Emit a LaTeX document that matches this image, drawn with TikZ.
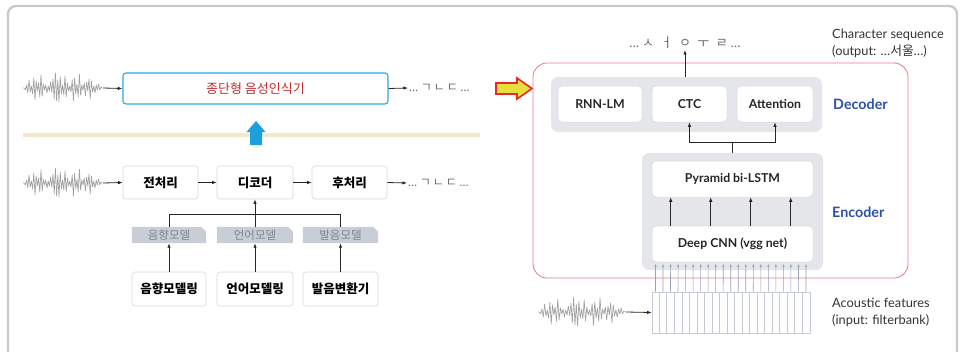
\documentclass[tikz,border=0pt]{standalone}
\usepackage{fontspec}
\setmainfont{Lato}
\newfontfamily\kr{Noto Sans CJK KR}
\usetikzlibrary{arrows.meta,backgrounds,calc}
\definecolor{framec}{HTML}{CACACA}
\definecolor{bluec}{HTML}{2BA8E0}
\definecolor{redtxt}{HTML}{C42A30}
\definecolor{boxline}{HTML}{D4D7DC}
\definecolor{tabfill}{HTML}{C9CDD5}
\definecolor{tabtxt}{HTML}{7E848E}
\definecolor{beige}{HTML}{F2E9CD}
\definecolor{uparrow}{HTML}{1BA0DC}
\definecolor{redline}{HTML}{E57B84}
\definecolor{panelc}{HTML}{E4E6EA}
\definecolor{encblue}{HTML}{2C50A8}
\definecolor{fbline}{HTML}{C6CAD2}
\definecolor{fbarrow}{HTML}{98A2B7}
\definecolor{outc}{HTML}{656A72}
\definecolor{wavec}{HTML}{A0A0A0}
\definecolor{yel}{HTML}{E6DF3C}
\definecolor{yelline}{HTML}{E8262E}
\definecolor{labc}{HTML}{333333}
\newcommand\mydots{{\rmfamily\mdseries …}}
\begin{document}
\begin{tikzpicture}[x=1pt,y=-1pt,
  arr/.style={-{Latex[length=4.5pt,width=3.4pt]}, line width=0.8pt, black!85},
  garr/.style={-{Latex[length=3.2pt,width=2.4pt]}, line width=0.6pt, fbarrow},
  wbox/.style={draw=boxline, fill=white, rounded corners=3pt, line width=0.6pt, inner sep=0pt, font=\kr\bfseries\fontsize{12.5}{14}\selectfont},
  ebox/.style={draw=boxline, fill=white, rounded corners=4pt, line width=0.5pt, inner sep=0pt, font=\bfseries\fontsize{12.3}{14}\selectfont, text=black!85},
  tabnode/.style={inner sep=0pt, minimum height=16pt, text=tabtxt, font=\kr\fontsize{11.5}{13}\selectfont},
  panel/.style={fill=panelc, rounded corners=7pt, inner sep=0pt},
  jamo/.style={inner sep=1pt, text=outc, font=\kr\fontsize{12}{14}\selectfont},
  lab/.style={inner sep=0pt, anchor=west, align=left, text=labc, font=\fontsize{12.8}{17.5}\selectfont},
  coder/.style={inner sep=0pt, anchor=west, text=encblue, font=\bfseries\fontsize{14.3}{16}\selectfont},
  wave/.pic={\draw[wavec, line width=0.65pt, line join=round] (0,0)
     \foreach \a [count=\i] in {0,2,-3,5,-8,4,-2,6,-10,12,-7,3,-5,9,-13,8,-4,2,-3,5,-2,3,-6,4,-9,11,-15,13,-8,14,-11,6,-3,7,-12,9,-5,3,-2,4,-8,13,-10,6,-4,9,-14,7,-3,2,-5,8,-6,3,-9,11,-7,4,-2,5,-3,2,-4,2,-1,0} { -- (\i*1.2,\a) };}
]
\useasboundingbox (0,0) rectangle (961,351);
\clip (0,0) rectangle (961,351);
% outer frame
\draw[framec, line width=2.4pt, rounded corners=8pt] (8,6) rectangle (957,380);

% ===== left: end-to-end =====
\pic at (23,88) {wave};
\coordinate (w1) at (103,88);
\node[draw=bluec, line width=1.1pt, rounded corners=3pt, fill=white, minimum width=265pt, minimum height=31pt, inner sep=0pt,
      text=redtxt, font=\kr\fontsize{13}{15}\selectfont] (e2e) at (255.5,88.5) {종단형 음성인식기};
\draw[arr] (w1) -- (e2e.west);
\node[jamo, anchor=west] (o1) at (408,88) {\mydots\ ㄱ\,ㄴ\,ㄷ \mydots};
\draw[arr] (e2e.east) -- (o1.west);

% separator and blue arrow
\draw[beige, line width=4pt] (23,135) -- (480,135);
\fill[uparrow] (250,145) -- (250,132) -- (246.5,132) -- (256,121) -- (265.5,132) -- (262,132) -- (262,145) -- cycle;

% ===== left: conventional =====
\pic at (23,183) {wave};
\coordinate (w2) at (103,183);
\node[wbox, minimum width=75pt, minimum height=33pt] (pre) at (160.5,182.5) {전처리};
\node[wbox, minimum width=76pt, minimum height=33pt] (dec) at (255,182.5) {디코더};
\node[wbox, minimum width=75pt, minimum height=33pt] (post) at (349.5,182.5) {후처리};
\node[jamo, anchor=west] (o2) at (407,183) {\mydots\ ㄱ\,ㄴ\,ㄷ \mydots};
\draw[arr] (w2) -- (pre.west);
\draw[arr] (pre.east) -- (dec.west);
\draw[arr] (dec.east) -- (post.west);
\draw[arr] (post.east) -- (o2.west);

\node[tabnode, minimum width=74pt] (t1) at (169,235) {음향모델};
\node[tabnode, minimum width=76pt] (t2) at (255,235) {언어모델};
\node[tabnode, minimum width=75pt] (t3) at (340.5,235) {발음모델};
\begin{scope}[on background layer]
  \foreach \t in {t1,t2,t3}
    \fill[tabfill] (\t.north west) -- ([xshift=-5pt]\t.north east) -- ([yshift=-5pt]\t.north east) -- (\t.south east) -- (\t.south west) -- cycle;
\end{scope}
\coordinate (lj) at (255,214);
\draw[line width=0.8pt, black!85] (t1.north) -- (t1.north |- lj) -- (t3.north |- lj) -- (t3.north);
\draw[arr] (t2.north) -- (dec.south);

\node[wbox, minimum width=74pt, minimum height=34pt] (b1) at (169,289) {음향모델링};
\node[wbox, minimum width=76pt, minimum height=34pt] (b2) at (255,289) {언어모델링};
\node[wbox, minimum width=75pt, minimum height=34pt] (b3) at (340.5,289) {발음변환기};
\draw[arr] (b1.north) -- (t1.south);
\draw[arr] (b2.north) -- (t2.south);
\draw[arr] (b3.north) -- (t3.south);

% yellow arrow
\draw[yelline, fill=yel, line width=1.6pt, line join=miter] (496,83) -- (517,83) -- (517,78) -- (532,88.5) -- (517,99) -- (517,94) -- (496,94) -- cycle;

% ===== right: model =====
\node[draw=redline, line width=0.8pt, rounded corners=14pt, minimum width=375pt, minimum height=215pt, inner sep=0pt] (model) at (720.5,170.5) {};

\node[panel, minimum width=271pt, minimum height=55pt] (decp) at (686.5,104.5) {};
\node[ebox, minimum width=84pt, minimum height=36pt] (rnn) at (600,104) {RNN-LM};
\node[ebox, minimum width=75pt, minimum height=36pt] (ctc) at (689.5,104) {CTC};
\node[ebox, minimum width=76pt, minimum height=36pt] (att) at (775,104) {Attention};
\node[coder] (decl) at (833,104) {Decoder};

\node[panel, minimum width=181pt, minimum height=117pt] (encp) at (732.5,211.5) {};
\node[ebox, minimum width=161pt, minimum height=36pt] (lstm) at (732.5,179) {Pyramid bi-LSTM};
\node[ebox, minimum width=161pt, minimum height=36pt] (cnn) at (732.5,244) {Deep CNN (vgg net)};
\node[coder] (encl) at (832,212) {Encoder};

\coordinate (dj) at (732.5,142);
\draw[line width=0.8pt, black!85] (encp.north) -- (dj);
\draw[arr] (dj) -| (ctc.south);
\draw[arr] (dj) -| (att.south);
\foreach \x in {19,59,99,139}
  \draw[arr] ($(cnn.north west)+(\x,0)$) -- ($(lstm.south west)+(\x,0)$);

\node[jamo, font=\kr\fontsize{13}{15}\selectfont] (topout) at (685,43) {\mydots\ ㅅ\enspace ㅓ\enspace ㅇ\enspace ㅜ\enspace ㄹ \mydots};
\draw[arr] (topout.south |- decp.north) -- (topout.south);
\node[lab] (charl) at (832,43.5) {Character sequence\\(output: …{\kr 서울}…)};

% filterbank
\node[draw=fbline, line width=0.6pt, fill=white, minimum width=158pt, minimum height=41pt, inner sep=0pt] (fb) at (731,312.5) {};
\foreach \i in {1,...,20}
  \draw[fbline, line width=0.6pt] ($(fb.north west)+(\i*7.524,0)$) -- ($(fb.south west)+(\i*7.524,0)$);
\foreach \i in {0,...,20}
  \draw[garr] ($(fb.north west)+(3.762+\i*7.524,0)$) -- ($(cnn.south west)+(3.762+\i*7.524,1.5)$);
\pic[xscale=1.1] at (538,312) {wave};
\coordinate (w3) at (626,312);
\draw[arr] (w3) -- (fb.west);
\node[lab] (acl) at (832,312.5) {Acoustic features\\(input: filterbank)};
\end{tikzpicture}
\end{document}
